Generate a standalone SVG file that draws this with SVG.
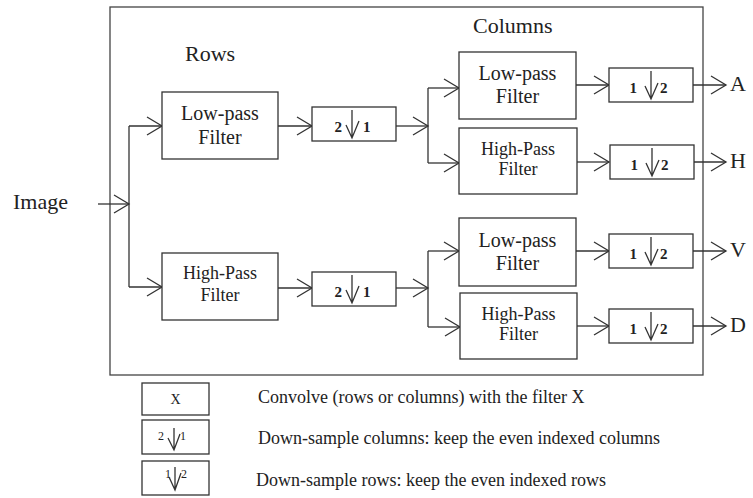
<svg xmlns="http://www.w3.org/2000/svg" width="753" height="498" viewBox="0 0 753 498" font-family="'Liberation Serif', 'Times New Roman', serif">
<defs>
<style>
.box{fill:#fff;stroke:#333;stroke-width:1.3}
.frame{fill:none;stroke:#444;stroke-width:1.3}
.ln{fill:none;stroke:#333;stroke-width:1.3}
.arr{fill:none;stroke:#333;stroke-width:1.3;marker-end:url(#ah)}
.t{fill:#222}
.big{font-size:22px}
.lp{font-size:20px;text-anchor:middle}
.hp{font-size:18px;text-anchor:middle}
.dig{font-size:15px;font-weight:bold}
.ldig{font-size:12px}
.leg{font-size:18px}
</style>
<marker id="ah" markerUnits="userSpaceOnUse" markerWidth="18" markerHeight="20" viewBox="0 0 18 20" refX="16" refY="10" orient="auto">
<path d="M1,1 L16,10 L1,19" fill="none" stroke="#333" stroke-width="1.3"/>
</marker>
<g id="ds21">
<rect class="box" x="0" y="0" width="84" height="34"/>
<text class="t dig" style="font-family:'Liberation Serif',serif" x="30" y="25" text-anchor="end">2</text>
<path class="ln" d="M40,3 V31 M34,18 L40,31 L47,14"/>
<text class="t dig" style="font-family:'Liberation Serif',serif" x="51" y="25">1</text>
</g>
<g id="ds12">
<rect class="box" x="0" y="0" width="84" height="34"/>
<text class="t dig" style="font-family:'Liberation Serif',serif" x="28" y="25" text-anchor="end">1</text>
<path class="ln" d="M42,3 V31 M36,18 L42,31 L49,15"/>
<text class="t dig" style="font-family:'Liberation Serif',serif" x="51" y="25">2</text>
</g>
</defs>
<rect width="753" height="498" fill="#fff"/>
<rect id="frame" class="frame" x="110" y="7" width="593" height="368"/>

<text class="t big" font-family="Liberation Serif, serif" x="185" y="61">Rows</text>
<text class="t big" font-family="Liberation Serif, serif" x="473" y="33">Columns</text>
<text class="t big" font-family="Liberation Serif, serif" x="13" y="209">Image</text>

<g id="connectors">
<path class="arr" d="M98,204 H129"/>
<path class="ln" d="M129,126 V287"/>
<path class="arr" d="M129,126 H162"/>
<path class="arr" d="M129,287 H162"/>
<path class="arr" d="M278,126 H312"/>
<path class="arr" d="M278,288 H312"/>
<path class="arr" d="M396,126 H428"/>
<path class="arr" d="M396,288 H428"/>
<path class="ln" d="M428,88 V163"/>
<path class="arr" d="M428,88 H459"/>
<path class="arr" d="M428,163 H459"/>
<path class="ln" d="M428,251 V327"/>
<path class="arr" d="M428,251 H459"/>
<path class="arr" d="M428,327 H460"/>
<path class="arr" d="M576,85 H609"/>
<path class="arr" d="M577,162 H609"/>
<path class="arr" d="M576,251 H609"/>
<path class="arr" d="M577,326 H609"/>
<path class="arr" d="M693,85 H726"/>
<path class="arr" d="M693,162 H726"/>
<path class="arr" d="M693,251 H726"/>
<path class="arr" d="M693,326 H726"/>
</g>

<g id="row-lp">
<rect class="box" x="162" y="92" width="116" height="67"/>
<text class="t lp" style="font-family:'Liberation Serif',serif" x="220" y="120">Low-pass</text>
<text class="t lp" style="font-family:'Liberation Serif',serif" x="220" y="144">Filter</text>
</g>
<g id="row-hp">
<rect class="box" x="162" y="253" width="116" height="67"/>
<text class="t hp" style="font-family:'Liberation Serif',serif" x="220" y="279">High-Pass</text>
<text class="t hp" style="font-family:'Liberation Serif',serif" x="220" y="301">Filter</text>
</g>
<g id="row-ds-top"><use href="#ds21" x="312" y="107"/></g>
<g id="row-ds-bot"><use href="#ds21" x="312" y="272"/></g>

<g id="col-lp1">
<rect class="box" x="459" y="52" width="117" height="67"/>
<text class="t lp" style="font-family:'Liberation Serif',serif" x="517.5" y="80">Low-pass</text>
<text class="t lp" style="font-family:'Liberation Serif',serif" x="517.5" y="103">Filter</text>
</g>
<g id="col-hp1">
<rect class="box" x="459" y="128" width="118" height="66"/>
<text class="t hp" style="font-family:'Liberation Serif',serif" x="518" y="155">High-Pass</text>
<text class="t hp" style="font-family:'Liberation Serif',serif" x="518" y="175">Filter</text>
</g>
<g id="col-lp2">
<rect class="box" x="459" y="218" width="117" height="68"/>
<text class="t lp" style="font-family:'Liberation Serif',serif" x="517.5" y="247">Low-pass</text>
<text class="t lp" style="font-family:'Liberation Serif',serif" x="517.5" y="270">Filter</text>
</g>
<g id="col-hp2">
<rect class="box" x="460" y="293" width="117" height="66"/>
<text class="t hp" style="font-family:'Liberation Serif',serif" x="518.5" y="320">High-Pass</text>
<text class="t hp" style="font-family:'Liberation Serif',serif" x="518.5" y="340">Filter</text>
</g>

<g id="ds-a"><use href="#ds12" x="609" y="68"/></g>
<g id="ds-h"><use href="#ds12" x="610" y="145"/></g>
<g id="ds-v"><use href="#ds12" x="609" y="234"/></g>
<g id="ds-d"><use href="#ds12" x="609" y="309"/></g>

<g id="out-a"><text class="t big" font-family="Liberation Serif, serif" x="730" y="91">A</text></g>
<g id="out-h"><text class="t big" font-family="Liberation Serif, serif" x="730" y="168">H</text></g>
<g id="out-v"><text class="t big" font-family="Liberation Serif, serif" x="730" y="257">V</text></g>
<g id="out-d"><text class="t big" font-family="Liberation Serif, serif" x="730" y="332">D</text></g>

<g id="legend-x">
<rect class="box" x="142" y="383" width="67" height="32"/>
<text class="t" style="font-family:'Liberation Serif',serif" x="175.5" y="404" font-size="14" text-anchor="middle">X</text>
<text class="t leg" style="font-family:'Liberation Serif',serif" x="258" y="403">Convolve (rows or columns) with the filter X</text>
</g>
<g id="legend-21">
<rect class="box" x="142" y="420" width="67" height="34"/>
<text class="t ldig" style="font-family:'Liberation Serif',serif" x="164" y="440" text-anchor="end">2</text>
<path class="ln" d="M174,428 V450 M168,438 L174,450 L180,434"/>
<text class="t ldig" style="font-family:'Liberation Serif',serif" x="180" y="440">1</text>
<text class="t leg" style="font-family:'Liberation Serif',serif" x="258" y="444">Down-sample columns: keep the even indexed columns</text>
</g>
<g id="legend-12">
<rect class="box" x="142" y="461" width="67" height="34"/>
<text class="t ldig" style="font-family:'Liberation Serif',serif" x="171" y="478" text-anchor="end">1</text>
<path class="ln" d="M175,467 V490 M169,477 L175,490 L181,473"/>
<text class="t ldig" style="font-family:'Liberation Serif',serif" x="181" y="478">2</text>
<text class="t leg" style="font-family:'Liberation Serif',serif" x="256" y="486">Down-sample rows: keep the even indexed rows</text>
</g>
</svg>
